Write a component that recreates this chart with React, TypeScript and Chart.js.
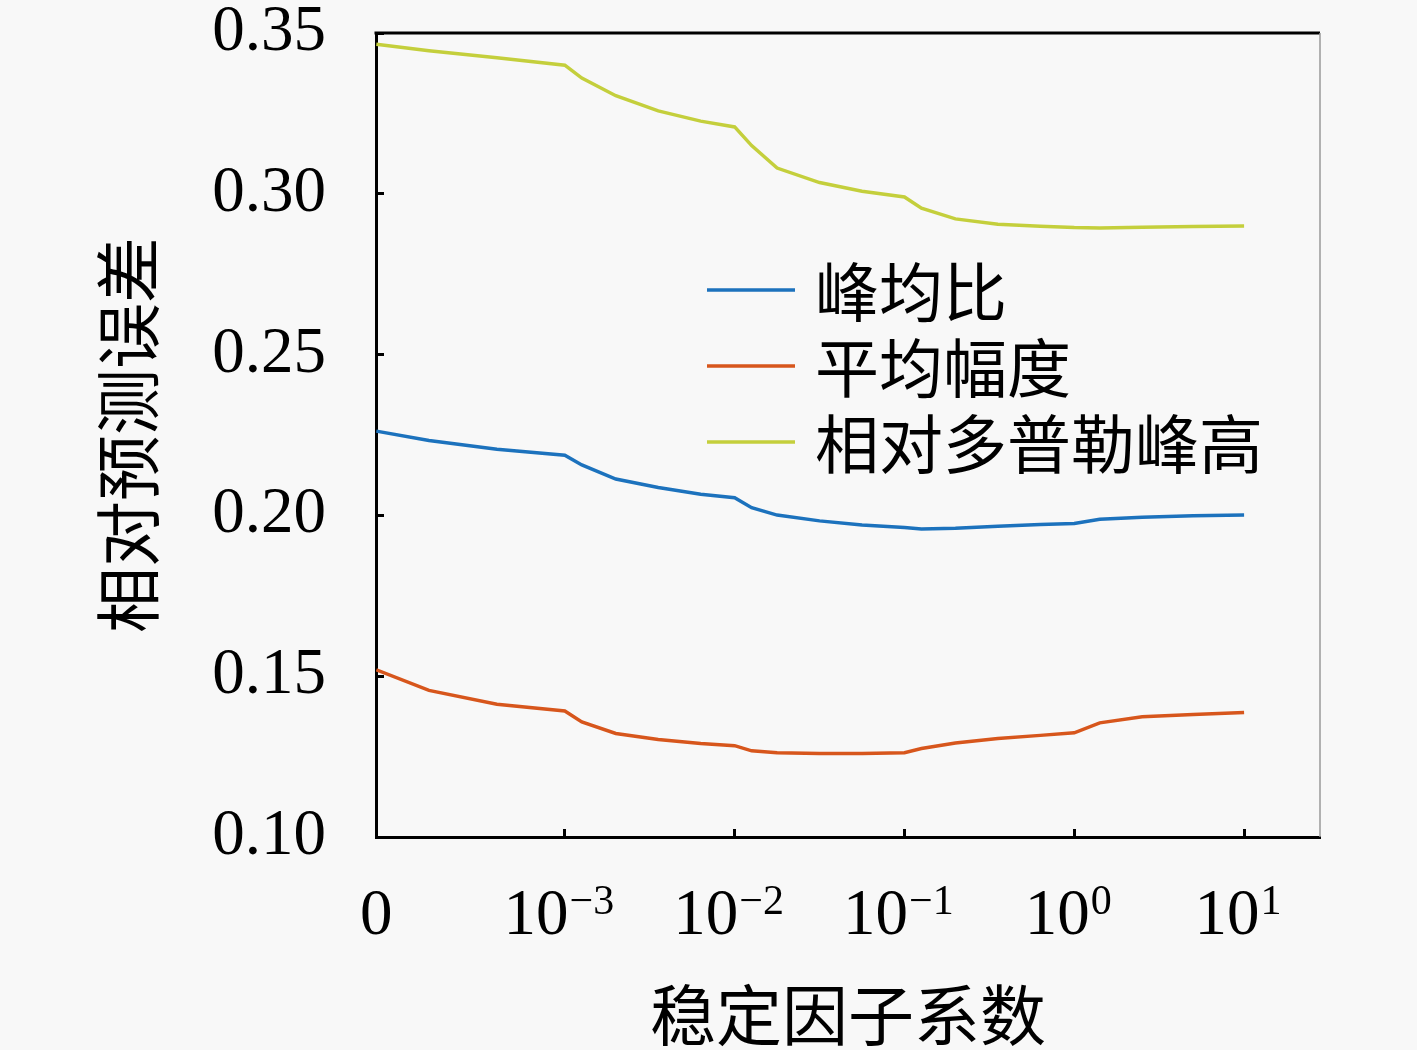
import React, { useEffect, useRef } from "react";
import { Chart, registerables } from "chart.js";

Chart.register(...registerables);

const seriesLabels = ["峰均比", "平均幅度", "相对多普勒峰高"];
const seriesColors = ["#1c72bd", "#d7561c", "#c4cf3c"];

// position of each sample on the axis, in decades (the "0" point sits left of 10^-3)
const xPos = [
  -4.11, -3.8, -3.4, -3, -2.9, -2.7, -2.45, -2.2, -2, -1.9, -1.75, -1.5,
  -1.25, -1, -0.9, -0.7, -0.45, -0.2, 0, 0.15, 0.4, 0.7, 1,
];

const peakRatio = [
  0.2262, 0.2233, 0.2206, 0.2187, 0.2157, 0.2113, 0.2087, 0.2066, 0.2055,
  0.2024, 0.2001, 0.1983, 0.197, 0.1962, 0.1958, 0.196, 0.1966, 0.1972,
  0.1975, 0.1988, 0.1994, 0.1999, 0.2001,
];

const meanAmplitude = [
  0.152, 0.1456, 0.1413, 0.1392, 0.1358, 0.1322, 0.1303, 0.1291, 0.1284,
  0.1268, 0.1262, 0.126, 0.126, 0.1262, 0.1275, 0.1292, 0.1306, 0.1316,
  0.1324, 0.1355, 0.1374, 0.1381, 0.1387,
];

const dopplerPeak = [
  0.3465, 0.3445, 0.3423, 0.34, 0.336, 0.3305, 0.3258, 0.3226, 0.3208, 0.315,
  0.308, 0.3035, 0.3008, 0.299, 0.2955, 0.2922, 0.2905, 0.2899, 0.2895,
  0.2894, 0.2896, 0.2898, 0.29,
];

// x tick labels: base and exponent, drawn as 10 with a raised power
const xTickPos = [-4.11, -3, -2, -1, 0, 1];
const xTickBase = ["0", "10", "10", "10", "10", "10"];
const xTickExp = ["", "−3", "−2", "−1", "0", "1"];
const yTicks = [0.1, 0.15, 0.2, 0.25, 0.3, 0.35];

const xTitle = "稳定因子系数";
const yTitle = "相对预测误差";

const BG = "#f8f8f8";
const SERIF = "'Liberation Serif', serif";
const tickFont = { family: SERIF, size: 65, lineHeight: 1 };
const cjkFont = { family: "'Noto Sans CJK SC', sans-serif", size: 66, lineHeight: 1 };

const bgPlugin = {
  id: "bg",
  beforeDraw: (chart: any) => {
    const ctx = chart.ctx;
    ctx.save();
    ctx.fillStyle = BG;
    ctx.fillRect(0, 0, chart.width, chart.height);
    ctx.restore();
  },
};

const xLabelPlugin = {
  id: "xPowerLabels",
  afterDraw: (chart: any) => {
    const { ctx } = chart;
    const sx = chart.scales.x;
    const baseY = chart.chartArea.bottom + 97;
    ctx.save();
    ctx.fillStyle = "#000";
    ctx.textBaseline = "alphabetic";
    ctx.textAlign = "left";
    xTickPos.forEach((v, i) => {
      const px = sx.getPixelForValue(v);
      ctx.font = `65px ${SERIF}`;
      const wb = ctx.measureText(xTickBase[i]).width;
      ctx.font = `42px ${SERIF}`;
      const we = xTickExp[i] ? ctx.measureText(xTickExp[i]).width + 1 : 0;
      const start = px - (wb + we) / 2 - (we ? 6 : 0);
      ctx.font = `65px ${SERIF}`;
      ctx.fillText(xTickBase[i], start, baseY);
      if (we) {
        ctx.font = `42px ${SERIF}`;
        ctx.fillText(xTickExp[i], start + wb + 1, baseY - 20);
      }
    });
    ctx.restore();
  },
};

// top and right sides of the box, plus the legend inside the plot
const boxLegendPlugin = {
  id: "boxLegend",
  afterDraw: (chart: any) => {
    const { ctx, chartArea } = chart;
    const { left, right, top } = chartArea;
    ctx.save();
    ctx.strokeStyle = "#000";
    ctx.lineWidth = 3;
    ctx.beginPath();
    ctx.moveTo(left - 1.5, top);
    ctx.lineTo(right, top);
    ctx.stroke();
    ctx.strokeStyle = "#9a9a9a";
    ctx.lineWidth = 1.5;
    ctx.beginPath();
    ctx.moveTo(right, top);
    ctx.lineTo(right, chartArea.bottom);
    ctx.stroke();

    const x0 = left + 331;
    ctx.font = "64px 'Noto Sans CJK SC', sans-serif";
    ctx.textBaseline = "middle";
    ctx.textAlign = "left";
    chart.data.datasets.forEach((ds: any, i: number) => {
      const y = top + 257 + i * 76;
      ctx.strokeStyle = ds.borderColor;
      ctx.lineWidth = 3.5;
      ctx.beginPath();
      ctx.moveTo(x0, y);
      ctx.lineTo(x0 + 88, y);
      ctx.stroke();
      ctx.fillStyle = "#000";
      ctx.fillText(ds.label, x0 + 108, y + 2);
    });
    ctx.restore();
  },
};

const App: React.FC = () => {
  const canvasRef = useRef<HTMLCanvasElement | null>(null);
  const chartRef = useRef<Chart | null>(null);

  useEffect(() => {
    document.body.style.margin = "0";
    document.body.style.background = BG;
    if (!canvasRef.current) return;
    const ctx = canvasRef.current.getContext("2d");
    if (!ctx) return;

    const series = [peakRatio, meanAmplitude, dopplerPeak];

    chartRef.current = new Chart(ctx, {
      type: "line",
      data: {
        datasets: series.map((vals, i) => ({
          label: seriesLabels[i],
          data: vals.map((v, j) => ({ x: xPos[j], y: v })),
          borderColor: seriesColors[i],
          borderWidth: 3.5,
          pointRadius: 0,
          tension: 0,
          fill: false,
        })),
      },
      options: {
        animation: false,
        responsive: false,
        devicePixelRatio: 1,
        layout: { padding: { top: 33, right: 97, left: 0, bottom: 0 } },
        plugins: {
          legend: { display: false },
          tooltip: { enabled: false },
        },
        scales: {
          x: {
            type: "linear",
            min: -4.112,
            max: 1.447,
            afterBuildTicks: (s: any) => {
              s.ticks = xTickPos.map((v) => ({ value: v }));
            },
            afterFit: (s: any) => {
              s.height = 213;
              s.paddingLeft = 0;
              s.paddingRight = 0;
            },
            ticks: { display: false },
            grid: {
              drawOnChartArea: false,
              drawTicks: true,
              tickLength: -8,
              tickWidth: 3,
              tickColor: "#000",
            },
            border: { color: "#000", width: 3 },
            title: {
              display: true,
              text: xTitle,
              font: cjkFont,
              color: "#000",
              padding: { top: 0, bottom: 2 },
            },
          },
          y: {
            type: "linear",
            min: 0.1,
            max: 0.35,
            afterBuildTicks: (s: any) => {
              s.ticks = yTicks.map((v) => ({ value: v }));
            },
            afterFit: (s: any) => {
              s.width = 376;
              s.paddingTop = 0;
              s.paddingBottom = 0;
            },
            ticks: {
              callback: (v: any) => Number(v).toFixed(2),
              font: tickFont,
              color: "#000",
              padding: 58,
            },
            grid: {
              drawOnChartArea: false,
              drawTicks: true,
              tickLength: -8,
              tickWidth: 3,
              tickColor: "#000",
            },
            border: { color: "#000", width: 3 },
            title: {
              display: true,
              text: yTitle,
              font: cjkFont,
              color: "#000",
              padding: { top: 95, bottom: 0 },
            },
          },
        },
      },
      plugins: [bgPlugin, xLabelPlugin, boxLegendPlugin],
    });

    return () => {
      if (chartRef.current) {
        chartRef.current.destroy();
        chartRef.current = null;
      }
    };
  }, []);

  return (
    <div style={{ width: 1417, height: 1050, background: BG }}>
      <canvas ref={canvasRef} width={1417} height={1050}></canvas>
    </div>
  );
};

export default App;
